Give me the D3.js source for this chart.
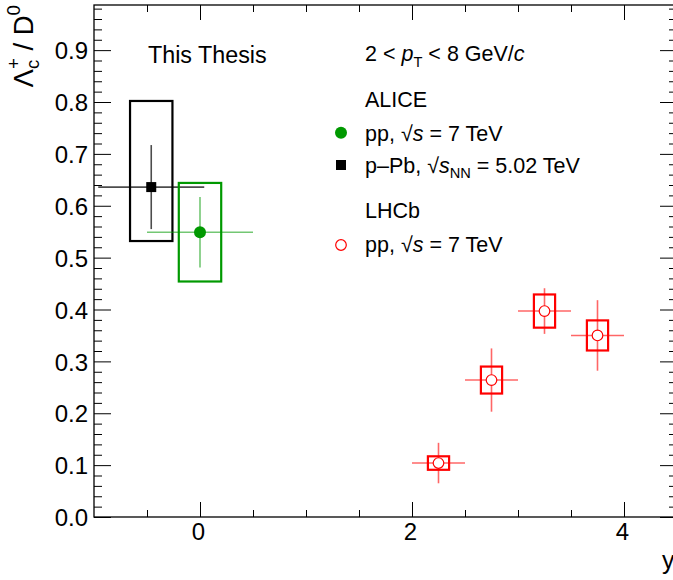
<!DOCTYPE html>
<html>
<head>
<meta charset="utf-8">
<script src="https://cdn.jsdelivr.net/npm/d3@7"></script>
<style>
  html, body { margin: 0; padding: 0; background: #fff; }
  svg { display: block; }
  text { font-family: "Liberation Sans", Arial, Helvetica, sans-serif; fill: #000; white-space: pre; }
</style>
</head>
<body>
<svg id="chart" width="673" height="580"></svg>
<script>
// ALICE pp, sqrt(s) = 7 TeV
const alicePPRapidity = [0.0];
const alicePPRatio = [0.549];
const alicePPStat = [0.068];
const alicePPSystUp = [0.095];
const alicePPSystDown = [0.095];
const alicePPHalfBin = [0.5];

// ALICE p-Pb, sqrt(sNN) = 5.02 TeV
const alicePPbRapidity = [-0.46];
const alicePPbRatio = [0.636];
const alicePPbStat = [0.081];
const alicePPbSystUp = [0.166];
const alicePPbSystDown = [0.104];
const alicePPbHalfBin = [0.5];

// LHCb pp, sqrt(s) = 7 TeV
const lhcbRapidity = [2.25, 2.75, 3.25, 3.75];
const lhcbRatio = [0.104, 0.264, 0.397, 0.350];
const lhcbStat = [0.039, 0.061, 0.044, 0.068];
const lhcbSystUp = [0.013, 0.026, 0.032, 0.029];
const lhcbSystDown = [0.013, 0.026, 0.032, 0.029];
const lhcbHalfBin = [0.25, 0.25, 0.25, 0.25];

// axis ticks
const xMajorTicks = [0, 2, 4];
const xMinorTicks = [-0.5, 0.5, 1, 1.5, 2.5, 3, 3.5];
const yMajorTicks = [0.0, 0.1, 0.2, 0.3, 0.4, 0.5, 0.6, 0.7, 0.8, 0.9];
const yMinorTicks = d3.range(0, 0.981, 0.02).filter(v => Math.abs(v * 10 - Math.round(v * 10)) > 1e-6);

const svg = d3.select("#chart");
const frame = { left: 94, right: 677, top: 5, bottom: 517 };

const x = d3.scaleLinear().domain([-1, 4.5]).range([frame.left, frame.right]);
const y = d3.scaleLinear().domain([0, 0.987]).range([frame.bottom, frame.top]);

const GREEN = "#009900", RED = "#ff0000", BLACK = "#000000";

// ---- axes ----
function styleAxis(g) {
  g.select(".domain").remove();
  g.selectAll(".tick line").attr("stroke", "#000").attr("stroke-width", 1);
}
const fmt = d3.format(".1f");

svg.append("g").attr("transform", `translate(${frame.left},0)`)
  .call(d3.axisLeft(y).tickValues(yMajorTicks).tickFormat(fmt).tickSizeInner(-17).tickSizeOuter(0).tickPadding(6))
  .call(styleAxis)
  .call(g => g.selectAll("text").attr("font-size", 24).attr("font-family", "Liberation Sans, Arial, sans-serif").attr("dy", "0.36em").attr("fill", "#000"));
svg.append("g").attr("transform", `translate(${frame.left},0)`)
  .call(d3.axisLeft(y).tickValues(yMinorTicks).tickFormat("").tickSizeInner(-8).tickSizeOuter(0))
  .call(styleAxis);
svg.append("g").attr("transform", `translate(${frame.right},0)`)
  .call(d3.axisRight(y).tickValues(yMajorTicks).tickFormat("").tickSizeInner(-17).tickSizeOuter(0))
  .call(styleAxis);
svg.append("g").attr("transform", `translate(${frame.right},0)`)
  .call(d3.axisRight(y).tickValues(yMinorTicks).tickFormat("").tickSizeInner(-8).tickSizeOuter(0))
  .call(styleAxis);

svg.append("g").attr("transform", `translate(0,${frame.bottom})`)
  .call(d3.axisBottom(x).tickValues(xMajorTicks).tickFormat(d3.format("d")).tickSizeInner(-15).tickSizeOuter(0).tickPadding(6))
  .call(styleAxis)
  .call(g => g.selectAll("text").attr("font-size", 24).attr("font-family", "Liberation Sans, Arial, sans-serif").attr("dx", -2).attr("fill", "#000"));
svg.append("g").attr("transform", `translate(0,${frame.bottom})`)
  .call(d3.axisBottom(x).tickValues(xMinorTicks).tickFormat("").tickSizeInner(-7).tickSizeOuter(0))
  .call(styleAxis);
svg.append("g").attr("transform", `translate(0,${frame.top})`)
  .call(d3.axisTop(x).tickValues(xMajorTicks).tickFormat("").tickSizeInner(-15).tickSizeOuter(0))
  .call(styleAxis);
svg.append("g").attr("transform", `translate(0,${frame.top})`)
  .call(d3.axisTop(x).tickValues(xMinorTicks).tickFormat("").tickSizeInner(-7).tickSizeOuter(0))
  .call(styleAxis);

// frame
svg.append("rect")
  .attr("x", frame.left).attr("y", frame.top)
  .attr("width", frame.right - frame.left).attr("height", frame.bottom - frame.top)
  .attr("fill", "none").attr("stroke", "#000").attr("stroke-width", 1.3);

// ---- data ----
function drawSeries(rap, ratio, stat, sysUp, sysDown, halfBin, boxHalf, color, barOpacity, marker) {
  const g = svg.append("g");
  const pts = rap.map((r, i) => ({ r, v: ratio[i], s: stat[i], su: sysUp[i], sd: sysDown[i], hb: halfBin[i] }));
  // systematic boxes
  g.selectAll("rect.sys").data(pts).join("rect")
    .attr("x", d => x(d.r - boxHalf)).attr("y", d => y(d.v + d.su))
    .attr("width", d => x(d.r + boxHalf) - x(d.r - boxHalf))
    .attr("height", d => y(d.v - d.sd) - y(d.v + d.su))
    .attr("fill", "none").attr("stroke", color).attr("stroke-width", 2.2);
  // statistical (vertical) and bin-width (horizontal) bars
  g.selectAll("line.v").data(pts).join("line")
    .attr("x1", d => x(d.r)).attr("x2", d => x(d.r))
    .attr("y1", d => y(d.v - d.s)).attr("y2", d => y(d.v + d.s))
    .attr("stroke", color).attr("stroke-opacity", barOpacity).attr("stroke-width", 1.6);
  g.selectAll("line.h").data(pts).join("line")
    .attr("x1", d => x(d.r - d.hb)).attr("x2", d => x(d.r + d.hb))
    .attr("y1", d => y(d.v)).attr("y2", d => y(d.v))
    .attr("stroke", color).attr("stroke-opacity", barOpacity).attr("stroke-width", 1.6);
  marker(g, pts.map(d => [x(d.r), y(d.v)]));
}

const squareMarker = (g, p) => g.selectAll("rect.m").data(p).join("rect")
  .attr("x", d => d[0] - 5).attr("y", d => d[1] - 5).attr("width", 10).attr("height", 10).attr("fill", BLACK);
const filledCircle = (g, p) => g.selectAll("circle").data(p).join("circle")
  .attr("cx", d => d[0]).attr("cy", d => d[1]).attr("r", 6).attr("fill", GREEN);
const openCircle = (g, p) => g.selectAll("circle").data(p).join("circle")
  .attr("cx", d => d[0]).attr("cy", d => d[1]).attr("r", 5.3).attr("fill", "#fff").attr("stroke", RED).attr("stroke-width", 1.2);

drawSeries(alicePPbRapidity, alicePPbRatio, alicePPbStat, alicePPbSystUp, alicePPbSystDown, alicePPbHalfBin, 0.2, BLACK, 0.7, squareMarker);
drawSeries(alicePPRapidity, alicePPRatio, alicePPStat, alicePPSystUp, alicePPSystDown, alicePPHalfBin, 0.2, GREEN, 0.55, filledCircle);
drawSeries(lhcbRapidity, lhcbRatio, lhcbStat, lhcbSystUp, lhcbSystDown, lhcbHalfBin, 0.1, RED, 0.6, openCircle);

// ---- texts ----
svg.append("text").attr("x", 148).attr("y", 63).attr("font-size", 23.3).text("This Thesis");

const LX = 365, LS = 21.5;
function legendText(yb, parts) {
  const t = svg.append("text").attr("x", LX).attr("y", yb).attr("font-size", LS);
  parts.forEach(p => {
    const s = t.append("tspan").text(p.t);
    if (p.i) s.attr("font-style", "italic");
    if (p.sub) s.attr("font-size", LS * 0.68).attr("dy", p.sub);
    if (p.dy) s.attr("dy", p.dy);
    if (p.dx) s.attr("dx", p.dx);
  });
  return t;
}
legendText(60.5, [{ t: "2 < " }, { t: "p", i: 1 }, { t: "T", sub: 6 }, { t: " < 8 GeV/", dy: -6 }, { t: "c", i: 1 }]);
legendText(107, [{ t: "ALICE" }]);
legendText(140.5, [{ t: "pp, " }, { t: "√" }, { t: "s", i: 1 }, { t: " = 7 TeV" }]);
legendText(172.5, [{ t: "p–Pb, " }, { t: "√" }, { t: "s", i: 1 }, { t: "NN", sub: 5 }, { t: " = 5.02 TeV", dy: -5 }]);
legendText(218, [{ t: "LHCb" }]);
legendText(252, [{ t: "pp, " }, { t: "√" }, { t: "s", i: 1 }, { t: " = 7 TeV" }]);

svg.append("circle").attr("cx", 341).attr("cy", 132.7).attr("r", 6).attr("fill", GREEN);
svg.append("rect").attr("x", 336).attr("y", 160).attr("width", 10).attr("height", 10).attr("fill", BLACK);
svg.append("circle").attr("cx", 341).attr("cy", 245).attr("r", 5.3).attr("fill", "#fff").attr("stroke", RED).attr("stroke-width", 1.2);

// x-axis title
svg.append("text").attr("x", 662).attr("y", 569).attr("font-size", 25).text("y");

// y-axis title: Λc+ / D0, right-aligned to the top of the axis
const yt = svg.append("g").attr("transform", `translate(33,${frame.top}) rotate(-90)`);
const TS = 27.5, SS = TS * 0.68;
let cx = 0;
const pieces = [];
function piece(txt, size, base, advance) {
  const t = yt.append("text").attr("x", cx).attr("y", base).attr("font-size", size).text(txt);
  const w = t.node().getComputedTextLength();
  pieces.push(t);
  if (advance) cx += w;
  return w;
}
piece("Λ", TS, 0, true);
const start = cx;
const wc = piece("c", SS, 6, false);
const wp = piece("+", SS, -13, false);
cx = start + Math.max(wc, wp);
piece(" / D", TS, 0, true);
piece("0", SS, -13, true);
const total = cx;
pieces.forEach(t => t.attr("x", +t.attr("x") - total));
</script>
</body>
</html>
